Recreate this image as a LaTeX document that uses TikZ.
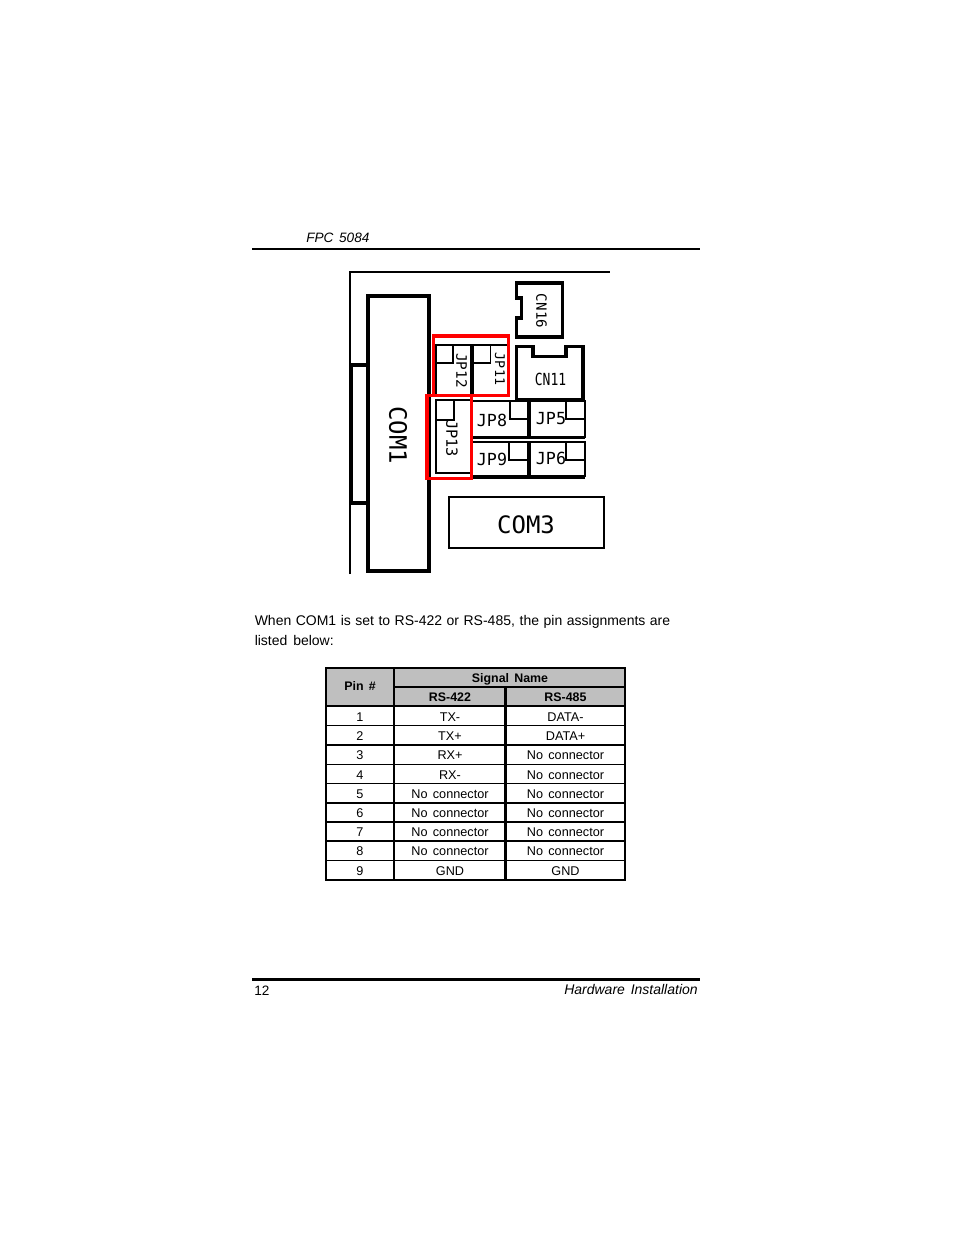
\documentclass[tikz,border=0pt]{standalone}
\usepackage{fontspec}
\setmainfont[WordSpace=1.5]{Liberation Sans}
\newfontfamily\pixfont{DejaVu Sans Mono}
\begin{document}
\begin{tikzpicture}[x=0.75pt,y=-0.75pt,
  thinl/.style={draw=black,line width=0.85pt},
  medl/.style={draw=black,line width=1.5pt},
  thickl/.style={draw=black,line width=2.3pt,line join=miter},
  heavy/.style={draw=black,line width=3pt},
  redbox/.style={draw=red,line width=2.3pt},
  pin/.style={thinl},
  lab/.style={font=\pixfont\fontsize{11.5pt}{12pt}\selectfont,inner sep=0pt},
  horlab/.style={font=\pixfont\fontsize{12.5pt}{13pt}\selectfont,inner sep=0pt},
  biglab/.style={font=\pixfont\fontsize{18pt}{18pt}\selectfont,inner sep=0pt},
  body/.style={font=\fontsize{10.5pt}{13pt}\selectfont,inner sep=0pt,anchor=base west},
  cell/.style={font=\fontsize{9.5pt}{11pt}\selectfont,inner sep=0pt,anchor=base},
  head/.style={font=\bfseries\fontsize{9.3pt}{11pt}\selectfont,inner sep=0pt,anchor=base},
  tline/.style={draw=black,line width=1.4pt},
  tthick/.style={draw=black,line width=1.7pt}]
\useasboundingbox (0,0) rectangle (954,1235);
% page furniture
\node[body,font=\itshape\fontsize{10.2pt}{12pt}\selectfont] (hdr) at (306,242) {FPC 5084};
\draw[line width=1.6pt] (252,249) -- (700,249);
\draw[line width=2.4pt] (252,979.5) -- (700,979.5);
\node[body,font=\fontsize{10.2pt}{12pt}\selectfont] (pg) at (254,995) {12};
\node[body,anchor=base east,font=\itshape\fontsize{10.5pt}{12pt}\selectfont] (sec) at (698,994) {Hardware Installation};
% board
\draw[medl,line width=1.1pt] (350,574) -- (350,272) -- (610,272);
\draw[thickl,line width=3pt] (350,365) -- (367,365);
\draw[thickl,line width=3pt] (350,502.5) -- (367,502.5);
\draw[thickl,line width=1.8pt] (351.5,365) -- (351.5,502.5);
\draw[heavy] (367.5,296) rectangle (429,571);
\node[biglab,rotate=-90] (com1) at (398,435) {COM1};
% CN16
\draw[thickl] (516.7,283) -- (562.5,283) -- (562.5,337) -- (516.7,337) -- (516.7,318) -- (521.5,318) -- (521.5,298) -- (516.7,298) -- cycle;
\node[lab,rotate=-90,font=\pixfont\fontsize{10.6pt}{11pt}\selectfont] (cn16) at (541.5,311) {CN16};
% CN11
\draw[thickl] (516.7,346.7) -- (533,346.7) -- (533,356.7) -- (566,356.7) -- (566,346.7) -- (583,346.7) -- (583,400) -- (516.7,400) -- cycle;
\node[horlab,xscale=0.78] (cn11) at (550.5,379) {CN11};
% JP12 / JP11
\draw[medl] (435.7,345) -- (507,345);
\draw[thickl] (472,345) -- (472,396);
\draw[medl] (435.7,345) -- (435.7,396);
\draw[pin] (436,345) rectangle (453,363);
\draw[pin] (472,345) rectangle (490.7,363);
\node[lab,rotate=-90,font=\pixfont\fontsize{10.8pt}{11pt}\selectfont] (jp12) at (461.5,370.5) {JP12};
\node[lab,rotate=-90,font=\pixfont\fontsize{10pt}{11pt}\selectfont] (jp11) at (500,369) {JP11};
% JP13
\draw[medl] (435.7,400) rectangle (472,473);
\draw[pin] (436,400) rectangle (454,420);
\node[lab,rotate=-90] (jp13) at (452,438.5) {JP13};
% JP8, JP5, JP9, JP6
\draw[medl] (472,400.5) -- (585,400.5);
\draw[thickl] (472,437.5) -- (585,437.5);
\draw[medl] (585,400.5) -- (585,437.5);
\draw[thickl] (529,400.5) -- (529,437.5);
\draw[pin] (510,400.5) rectangle (529,419);
\draw[pin] (566,400.5) rectangle (585,419);
\draw[medl] (472,442) -- (585,442) -- (585,477);
\draw[thickl] (472,477) -- (585,477);
\draw[thickl] (529,442) -- (529,477);
\draw[pin] (509,442) rectangle (529,460);
\draw[pin] (566,442) rectangle (585,460);
\node[horlab] (jp8) at (492,420) {JP8};
\node[horlab] (jp5) at (551,419) {JP5};
\node[horlab] (jp9) at (492,459.5) {JP9};
\node[horlab] (jp6) at (551,458.5) {JP6};
% red frames
\draw[redbox] (433.5,336) rectangle (508.5,395.5);
\draw[redbox] (427,395.5) rectangle (471.5,478.5);
% COM3
\draw[medl] (449,497) rectangle (604,548);
\node[biglab] (com3) at (526,525) {COM3};
% paragraph
\node[body] (p1) at (254.5,625) {\makebox[311.6pt][s]{When COM1 is set to RS-422 or RS-485, the pin assignments are}};
\node[body] (p2) at (254.5,645) {listed below:};
% table
\fill[black!25] (326,668) rectangle (625,706);
\foreach \yy in {706,725.5,745,764.5,783.5,803,822,841,860.5}
  \draw[tline] (326,\yy) -- (625,\yy);
\draw[tline] (394,687) -- (625,687);
\draw[tthick] (326,668) rectangle (625,880);
\draw[tthick] (394,668) -- (394,880);
\draw[tthick] (505.5,687) -- (505.5,880);
\node[head] (hp) at (360,690) {Pin \#};
\node[head] (hs) at (510,682) {Signal Name};
\node[head] (h4) at (450,701) {RS-422};
\node[head] (h5) at (565.5,701) {RS-485};
\foreach \n/\yb/\a/\b in {
  1/721/TX-/DATA-,
  2/740/TX+/DATA+,
  3/759/RX+/No connector,
  4/779/RX-/No connector,
  5/798/No connector/No connector,
  6/817/No connector/No connector,
  7/836/No connector/No connector,
  8/855/No connector/No connector,
  9/875/GND/GND}{
  \node[cell] (pin\n) at (360,\yb) {\n};
  \node[cell] (a\n) at (450,\yb) {\a};
  \node[cell] (b\n) at (565.5,\yb) {\b};
}
\end{tikzpicture}
\end{document}
